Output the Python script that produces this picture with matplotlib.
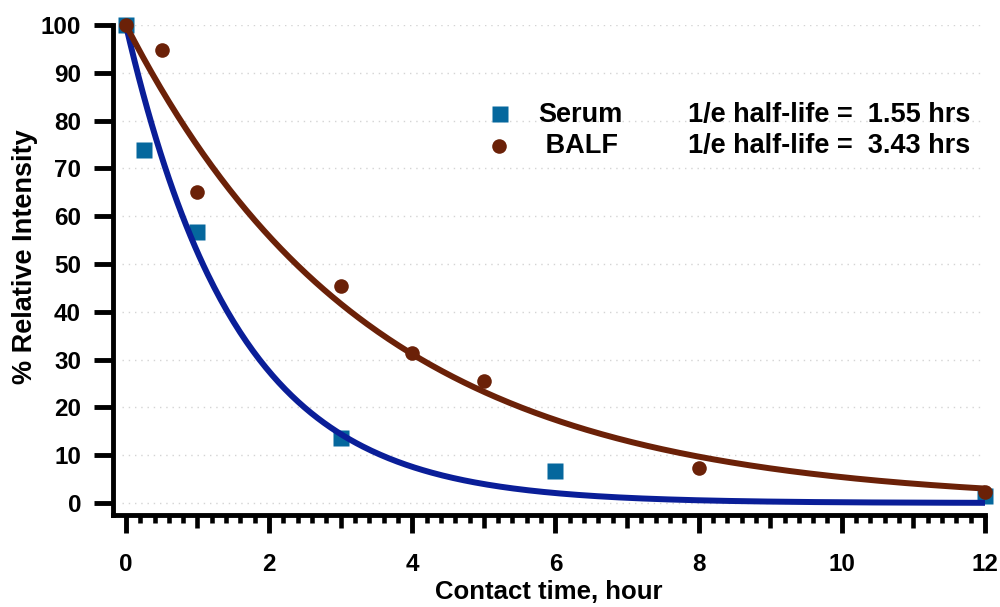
import numpy as np
import matplotlib
matplotlib.use("Agg")
import matplotlib.pyplot as plt
from matplotlib.ticker import FixedLocator

plt.rcParams['font.family'] = ['Liberation Sans', 'DejaVu Sans']
plt.rcParams['font.weight'] = 'bold'

serum_t = [0, 0.25, 1, 3, 6, 12]
serum_y = [100, 73.8, 56.7, 13.7, 6.6, 1.5]
balf_t = [0, 0.5, 1, 3, 4, 5, 8, 12]
balf_y = [100, 94.7, 65.0, 45.3, 31.4, 25.5, 7.4, 2.3]
half_lives = [1.55, 3.43]
series_names = ["Serum", " BALF"]
xticks = [0, 2, 4, 6, 8, 10, 12]
yticks = list(range(0, 101, 10))

c_sq = "#05679D"
c_blue = "#0A1E98"
c_brown = "#6B2108"

fig = plt.figure(figsize=(10, 6.07), dpi=100)
ax = fig.add_axes([0.113, 0.1516, 0.872, 0.8072])
ax.set_xlim(-0.18, 12)
ax.set_ylim(-2.5, 100)

for y in yticks:
    ax.axhline(y, xmin=0.01, xmax=0.995, color="#d4d4d4", lw=1, ls=(0, (1, 3.5)), zorder=0)

t = np.linspace(0, 12, 400)
ax.plot(serum_t, serum_y, 's', color=c_sq, ms=12, mec='none', clip_on=False, zorder=2)
ax.plot(t, 100 * np.exp(-t / half_lives[0]), color=c_blue, lw=4.3, clip_on=False, zorder=3,
        solid_capstyle='butt')
ax.plot(t, 100 * np.exp(-t / half_lives[1]), color=c_brown, lw=4.3, clip_on=False, zorder=4,
        solid_capstyle='butt')
ax.plot(balf_t, balf_y, 'o', color=c_brown, ms=10.5, mec='none', clip_on=False, zorder=5)

# legend
ax.plot([0.4438], [0.819], 's', color=c_sq, ms=12, mec='none', transform=ax.transAxes, clip_on=False)
ax.plot([0.4432], [0.753], 'o', color=c_brown, ms=10.5, mec='none', transform=ax.transAxes, clip_on=False)
for i, (nm, hl) in enumerate(zip(series_names, half_lives)):
    yy = [0.802, 0.7388][i]
    ax.text(0.4874, yy, nm, transform=ax.transAxes, fontsize=19.5, fontweight='bold',
            va='baseline', ha='left')
    ax.text(0.659, yy, "1/e half-life =  %.2f hrs" % hl, transform=ax.transAxes,
            fontsize=19.5, fontweight='bold', va='baseline', ha='left')

for s in ['top', 'right']:
    ax.spines[s].set_visible(False)
for s in ['left', 'bottom']:
    ax.spines[s].set_linewidth(3.5)

ax.xaxis.set_major_locator(FixedLocator(xticks))
minor = [v for v in np.round(np.arange(0, 12.001, 0.2), 2) if abs(v - round(v)) > 1e-6]
ax.xaxis.set_minor_locator(FixedLocator(minor))
ax.yaxis.set_major_locator(FixedLocator(yticks))
ax.tick_params(axis='x', which='major', length=12.6, width=3.5, labelsize=17.5, pad=15)
ax.tick_params(axis='x', which='minor', length=5.8, width=3.3)
ax.tick_params(axis='y', which='major', length=14, width=3.5, labelsize=17.5, pad=9)
for lab in ax.get_xticklabels() + ax.get_yticklabels():
    lab.set_fontweight('bold')

sec = ax.secondary_xaxis('bottom')
sec.set_xticks([1, 3, 5, 7, 9, 11])
sec.set_xticklabels([])
sec.tick_params(length=9, width=3.3)
sec.spines['bottom'].set_visible(False)

ax.set_xlabel("Contact time, hour", fontsize=18.5, fontweight='bold', labelpad=3)
ax.set_ylabel("% Relative Intensity", fontsize=19.5, fontweight='bold')
ax.yaxis.set_label_coords(-0.086, 0.5265)

fig.savefig("out.png", dpi=100)
